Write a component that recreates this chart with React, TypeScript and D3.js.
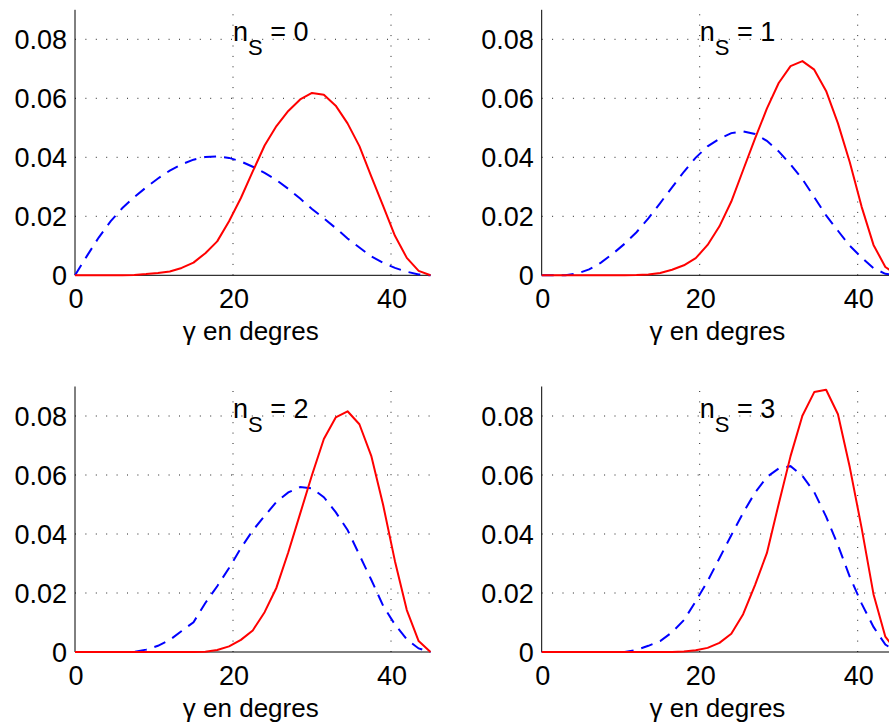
import React from "react";
import * as d3 from "d3";

// gamma in degrees
const GAMMA = [0, 1.5, 3, 4.5, 6, 7.5, 9, 10.5, 12, 13.5, 15, 16.5, 18, 19.5, 21, 22.5, 24, 25.5, 27, 28.5, 30, 31.5, 33, 34.5, 36, 37.5, 39, 40.5, 42, 43.5, 45];

const RED_N0 = [0, 0, 0, 0, 0, 0.0001, 0.0004, 0.0008, 0.0013, 0.0025, 0.0043, 0.0075, 0.0115, 0.0183, 0.0262, 0.0352, 0.044, 0.0506, 0.0557, 0.0596, 0.0618, 0.0612, 0.0575, 0.0515, 0.0438, 0.0335, 0.0235, 0.0134, 0.0059, 0.0015, 0];
const BLUE_N0 = [0, 0.0065, 0.0128, 0.0183, 0.0228, 0.0265, 0.0298, 0.0328, 0.0355, 0.0376, 0.0392, 0.0401, 0.0403, 0.0398, 0.0386, 0.0368, 0.0347, 0.0323, 0.0293, 0.026, 0.0225, 0.0193, 0.016, 0.0125, 0.0094, 0.0064, 0.0042, 0.0025, 0.0012, 0.0003, 0];

const RED_N1 = [0, 0, 0, 0, 0, 0, 0, 0, 0.0001, 0.0003, 0.0008, 0.0019, 0.0034, 0.0058, 0.0103, 0.0166, 0.025, 0.0357, 0.0463, 0.0565, 0.0652, 0.0709, 0.0726, 0.0697, 0.0625, 0.0515, 0.0383, 0.0232, 0.0103, 0.0028, 0];
const BLUE_N1 = [0, 0, 0, 0.0006, 0.002, 0.0043, 0.0073, 0.0107, 0.0146, 0.0193, 0.0245, 0.0298, 0.0351, 0.0399, 0.0437, 0.0463, 0.0482, 0.0488, 0.0479, 0.0456, 0.042, 0.0376, 0.0326, 0.0265, 0.0203, 0.0151, 0.01, 0.006, 0.0024, 0.0005, 0];

const RED_N2 = [0, 0, 0, 0, 0, 0, 0, 0, 0, 0, 0, 0.0001, 0.0007, 0.0019, 0.0041, 0.0073, 0.0135, 0.0218, 0.0338, 0.0469, 0.06, 0.0722, 0.0795, 0.0816, 0.0772, 0.0665, 0.0499, 0.0308, 0.0142, 0.0037, 0];
const BLUE_N2 = [0, 0, 0, 0, 0, 0, 0.0008, 0.0021, 0.0041, 0.0071, 0.0101, 0.0166, 0.0223, 0.0285, 0.0352, 0.0412, 0.0461, 0.0509, 0.0541, 0.0559, 0.0555, 0.0525, 0.0474, 0.0414, 0.0329, 0.0245, 0.0157, 0.0093, 0.0043, 0.0012, 0];

const RED_N3 = [0, 0, 0, 0, 0, 0, 0, 0, 0, 0, 0, 0, 0.0002, 0.0006, 0.0014, 0.0031, 0.0062, 0.0128, 0.0227, 0.0335, 0.0502, 0.0664, 0.0801, 0.0881, 0.0889, 0.0806, 0.0626, 0.042, 0.0196, 0.0052, 0];
const BLUE_N3 = [0, 0, 0, 0, 0, 0, 0, 0, 0.0007, 0.0021, 0.0037, 0.0067, 0.0108, 0.0172, 0.024, 0.0318, 0.0396, 0.0472, 0.054, 0.0593, 0.0622, 0.063, 0.0597, 0.0542, 0.0459, 0.0362, 0.0255, 0.0164, 0.0085, 0.0025, 0];

const NS_VALUES = [0, 1, 2, 3];
const RED_SERIES = [RED_N0, RED_N1, RED_N2, RED_N3];
const BLUE_SERIES = [BLUE_N0, BLUE_N1, BLUE_N2, BLUE_N3];

const X_TICKS = [0, 20, 40];
const Y_TICKS = [0, 0.02, 0.04, 0.06, 0.08];
const X_DOMAIN = [0, 45];
const Y_DOMAIN = [0, 0.09];
const X_LABEL = "γ en degres";

const FONT = "'Liberation Sans', Arial, Helvetica, sans-serif";

const PANEL_POS = [
  { left: 75, bottom: 275.3 },
  { left: 541.7, bottom: 275.3 },
  { left: 75, bottom: 652 },
  { left: 541.7, bottom: 652 },
];
const PLOT_W = 355.5;
const PLOT_H = 265.5;

function Panel({ idx }: { idx: number }) {
  const pos = PANEL_POS[idx];
  const x = d3.scaleLinear().domain(X_DOMAIN).range([pos.left, pos.left + PLOT_W]);
  const y = d3.scaleLinear().domain(Y_DOMAIN).range([pos.bottom, pos.bottom - PLOT_H]);
  const line = d3
    .line<number>()
    .x((_, i) => x(GAMMA[i]))
    .y((d) => y(d));
  const top = y(Y_DOMAIN[1]);
  const right = x(X_DOMAIN[1]);
  const fmt = (v: number) => (v === 0 ? "0" : v.toFixed(2));
  return (
    <g>
      {/* grid */}
      {Y_TICKS.filter((t) => t !== 0).map((t) => (
        <line key={"gy" + t} x1={x(0)} x2={right} y1={y(t)} y2={y(t)} stroke="#222" strokeWidth={1} strokeDasharray="1,9.4" />
      ))}
      {X_TICKS.filter((t) => t !== 0).map((t) => (
        <line key={"gx" + t} x1={x(t)} x2={x(t)} y1={pos.bottom} y2={top} stroke="#222" strokeWidth={1} strokeDasharray="1,9.4" />
      ))}
      {/* axes */}
      <line x1={x(0)} x2={x(0)} y1={pos.bottom} y2={top} stroke="#000" strokeWidth={1} />
      <line x1={x(0)} x2={right} y1={pos.bottom} y2={pos.bottom} stroke="#000" strokeWidth={1} />
      {/* tick labels */}
      {Y_TICKS.map((t) => (
        <text key={"ty" + t} x={x(0) - 8} y={y(t)} dy="0.36em" textAnchor="end" fontFamily={FONT} fontSize={27} fill="#000">
          {fmt(t)}
        </text>
      ))}
      {X_TICKS.map((t) => (
        <text key={"tx" + t} x={x(t) + 1} y={pos.bottom + 33} textAnchor="middle" fontFamily={FONT} fontSize={27} fill="#000">
          {t}
        </text>
      ))}
      <text x={(pos.left + right) / 2 - 2} y={pos.bottom + 65} textAnchor="middle" fontFamily={FONT} fontSize={26} fill="#000">
        {X_LABEL}
      </text>
      {/* curves */}
      <path d={line(BLUE_SERIES[idx]) || ""} fill="none" stroke="#0000ff" strokeWidth={2} strokeDasharray="12,8" />
      <path d={line(RED_SERIES[idx]) || ""} fill="none" stroke="#ff0000" strokeWidth={2} strokeLinejoin="round" />
      {/* title */}
      <text x={x(20)} y={y(0.08) + 1.5} fontFamily={FONT} fontSize={27} fill="#000">
        <tspan>n</tspan>
        <tspan fontSize={22} dy={14}>S</tspan>
        <tspan dy={-14}>{" = " + NS_VALUES[idx]}</tspan>
      </text>
    </g>
  );
}

export default function App() {
  return (
    <svg
      width={889}
      height={724}
      viewBox="0 0 889 724"
      style={{ position: "absolute", left: 0, top: 0, background: "#fff" }}
    >
      <rect x={0} y={0} width={889} height={724} fill="#fff" />
      {NS_VALUES.map((_, i) => (
        <Panel key={i} idx={i} />
      ))}
    </svg>
  );
}
